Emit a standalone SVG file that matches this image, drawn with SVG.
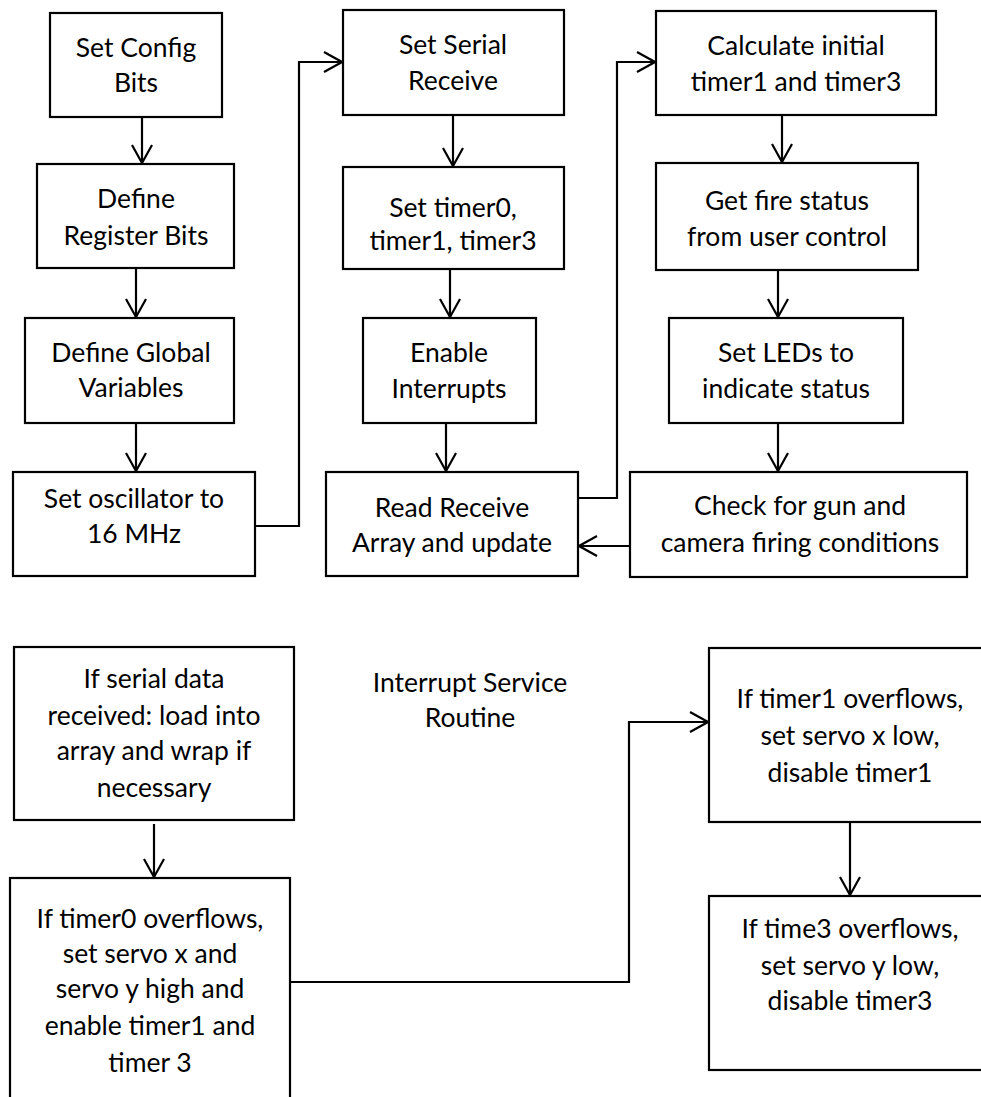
<svg xmlns="http://www.w3.org/2000/svg" width="981" height="1097" viewBox="0 0 981 1097">
<style>
.box{fill:#fff;stroke:#000;stroke-width:2.2}
.t{font-family:Lato,"Open Sans",sans-serif;font-size:26.5px;fill:#000;text-anchor:middle}
.c{fill:none;stroke:#000;stroke-width:2.2}
</style>
<defs>
<marker id="ah" viewBox="-20 -12 22 24" refX="0" refY="0" markerWidth="22" markerHeight="24" markerUnits="userSpaceOnUse" orient="auto">
<path d="M-18,-10 L0,0 L-18,10" fill="none" stroke="#000" stroke-width="2.2"/>
</marker>
</defs>
<rect width="981" height="1097" fill="#fff"/>
<g id="connectors">
<line class="c" x1="142" y1="117" x2="142" y2="163" marker-end="url(#ah)"/>
<line class="c" x1="136" y1="268" x2="136" y2="317" marker-end="url(#ah)"/>
<line class="c" x1="136" y1="423" x2="136" y2="471" marker-end="url(#ah)"/>
<polyline class="c" points="255,526 299,526 299,62 342,62" marker-end="url(#ah)"/>
<line class="c" x1="453" y1="115" x2="453" y2="166" marker-end="url(#ah)"/>
<line class="c" x1="450" y1="269" x2="450" y2="317" marker-end="url(#ah)"/>
<line class="c" x1="446" y1="423" x2="446" y2="471" marker-end="url(#ah)"/>
<polyline class="c" points="578,498 617,498 617,62 655,62" marker-end="url(#ah)"/>
<line class="c" x1="782" y1="115" x2="782" y2="162" marker-end="url(#ah)"/>
<line class="c" x1="778" y1="270" x2="778" y2="317" marker-end="url(#ah)"/>
<line class="c" x1="778" y1="423" x2="778" y2="471" marker-end="url(#ah)"/>
<line class="c" x1="630" y1="546" x2="579" y2="546" marker-end="url(#ah)"/>
<line class="c" x1="154" y1="824" x2="154" y2="877" marker-end="url(#ah)"/>
<polyline class="c" points="290,982 629,982 629,722 708,722" marker-end="url(#ah)"/>
<line class="c" x1="850" y1="822" x2="850" y2="895" marker-end="url(#ah)"/>
</g>
<g id="n1"><rect class="box" x="50" y="13" width="172" height="104"/>
<text class="t" x="136" y="57">Set Config</text><text class="t" x="136" y="92">Bits</text></g>
<g id="n2"><rect class="box" x="37" y="164" width="197" height="104"/>
<text class="t" x="136" y="208">Define</text><text class="t" x="136" y="245">Register Bits</text></g>
<g id="n3"><rect class="box" x="25" y="318" width="209" height="105"/>
<text class="t" x="131" y="362">Define Global</text><text class="t" x="131" y="397">Variables</text></g>
<g id="n4"><rect class="box" x="13" y="472" width="242" height="104"/>
<text class="t" x="134" y="508">Set oscillator to</text><text class="t" x="134" y="543">16 MHz</text></g>
<g id="n5"><rect class="box" x="343" y="10" width="221" height="105"/>
<text class="t" x="453" y="54">Set Serial</text><text class="t" x="453" y="90">Receive</text></g>
<g id="n6"><rect class="box" x="343" y="167" width="221" height="102"/>
<text class="t" x="453" y="217">Set timer0,</text><text class="t" x="453" y="250">timer1, timer3</text></g>
<g id="n7"><rect class="box" x="363" y="318" width="173" height="105"/>
<text class="t" x="449" y="362">Enable</text><text class="t" x="449" y="398">Interrupts</text></g>
<g id="n8"><rect class="box" x="326" y="472" width="252" height="104"/>
<text class="t" x="452" y="517">Read Receive</text><text class="t" x="452" y="552">Array and update</text></g>
<g id="n9"><rect class="box" x="656" y="11" width="280" height="104"/>
<text class="t" x="796" y="55">Calculate initial</text><text class="t" x="796" y="91">timer1 and timer3</text></g>
<g id="n10"><rect class="box" x="656" y="163" width="262" height="107"/>
<text class="t" x="787" y="210">Get fire status</text><text class="t" x="787" y="246">from user control</text></g>
<g id="n11"><rect class="box" x="669" y="318" width="234" height="105"/>
<text class="t" x="786" y="362">Set LEDs to</text><text class="t" x="786" y="398">indicate status</text></g>
<g id="n12"><rect class="box" x="630" y="472" width="337" height="105"/>
<text class="t" x="800" y="515">Check for gun and</text><text class="t" x="800" y="552">camera firing conditions</text></g>
<g id="n13"><rect class="box" x="14" y="647" width="280" height="173"/>
<text class="t" x="154" y="688">If serial data</text><text class="t" x="154" y="725">received: load into</text><text class="t" x="154" y="760">array and wrap if</text><text class="t" x="154" y="797">necessary</text></g>
<g id="n14"><rect class="box" x="10" y="878" width="280" height="240"/>
<text class="t" x="150" y="928">If timer0 overflows,</text><text class="t" x="150" y="963">set servo x and</text><text class="t" x="150" y="998">servo y high and</text><text class="t" x="150" y="1035">enable timer1 and</text><text class="t" x="150" y="1072">timer 3</text></g>
<g id="n15"><rect class="box" x="709" y="648" width="290" height="174"/>
<text class="t" x="850" y="708">If timer1 overflows,</text><text class="t" x="850" y="745">set servo x low,</text><text class="t" x="850" y="782">disable timer1</text></g>
<g id="n16"><rect class="box" x="709" y="896" width="290" height="174"/>
<text class="t" x="850" y="938">If time3 overflows,</text><text class="t" x="850" y="975">set servo y low,</text><text class="t" x="850" y="1010">disable timer3</text></g>
<g id="label"><text class="t" x="470" y="692">Interrupt Service</text><text class="t" x="470" y="727">Routine</text></g>
</svg>
